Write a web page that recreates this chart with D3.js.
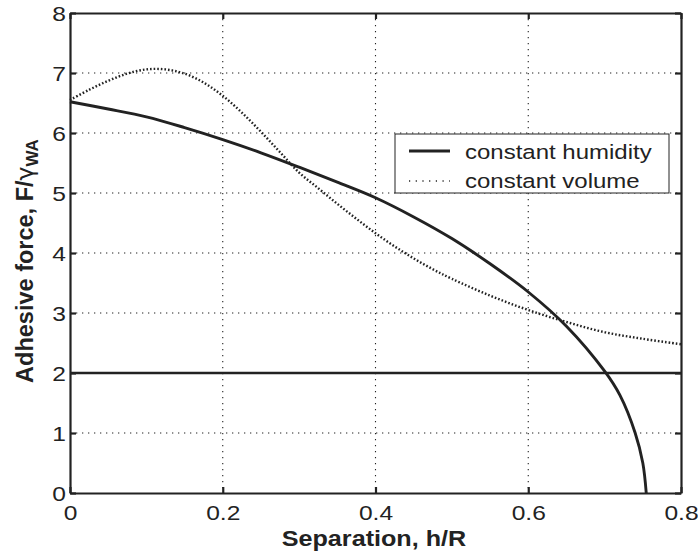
<!DOCTYPE html>
<html><head><meta charset="utf-8">
<script src="https://cdn.jsdelivr.net/npm/d3@7"></script>
<style>body{margin:0;background:#fff}svg{display:block}text{font-family:"Liberation Sans",Arial,sans-serif;fill:#222}</style>
</head><body><svg id="c" width="698" height="558"></svg>
<script>
const xTicks = [0, 0.2, 0.4, 0.6, 0.8];
const yTicks = [0, 1, 2, 3, 4, 5, 6, 7, 8];
const xTickLabels = ["0", "0.2", "0.4", "0.6", "0.8"];
const humidityX = [0, 0.05, 0.1, 0.15, 0.2, 0.25, 0.3, 0.35, 0.4, 0.45, 0.5, 0.55, 0.6, 0.65, 0.7, 0.72, 0.74, 0.75, 0.7545];
const humidityY = [6.52, 6.40, 6.27, 6.09, 5.89, 5.67, 5.43, 5.18, 4.92, 4.60, 4.24, 3.82, 3.35, 2.78, 2.03, 1.63, 1.0, 0.5, 0];
const volumeX = [0, 0.025, 0.05, 0.075, 0.1, 0.125, 0.15, 0.175, 0.2, 0.225, 0.25, 0.275, 0.3, 0.325, 0.35, 0.375, 0.4, 0.425, 0.45, 0.475, 0.5, 0.55, 0.6, 0.65, 0.7, 0.75, 0.8];
const volumeY = [6.55, 6.72, 6.87, 6.99, 7.06, 7.06, 6.99, 6.84, 6.62, 6.34, 6.02, 5.68, 5.34, 5.08, 4.82, 4.57, 4.33, 4.11, 3.91, 3.73, 3.57, 3.29, 3.05, 2.85, 2.68, 2.57, 2.48];
const refLevel = 2;
const legendLabels = ["constant humidity", "constant volume"];

const svg = d3.select("#c");
const L = 70, R = 681, T = 13, B = 493;
const x = d3.scaleLinear().domain([0, 0.8]).range([L, R]);
const y = d3.scaleLinear().domain([0, 8]).range([B, T]);
const ink = "#222";
const SX = 1.17; // horizontal stretch of glyphs in the reference

function stretch(sel) {
  sel.each(function () {
    const w = this.getComputedTextLength();
    d3.select(this).attr("textLength", w * SX).attr("lengthAdjust", "spacingAndGlyphs");
  });
}

// grid
const g = svg.append("g");
g.selectAll(".gx").data(xTicks.slice(1, -1)).join("line")
  .attr("x1", d => x(d)).attr("x2", d => x(d)).attr("y1", T).attr("y2", B)
  .attr("stroke", ink).attr("stroke-width", 1.1).attr("stroke-dasharray", "1.3,4.7");
g.selectAll(".gy").data(yTicks.slice(1, -1)).join("line")
  .attr("y1", d => y(d)).attr("y2", d => y(d)).attr("x1", L).attr("x2", R)
  .attr("stroke", ink).attr("stroke-width", 1.1).attr("stroke-dasharray", "1.3,4.7");

// axes (MATLAB-style inward ticks on all sides)
const tl = 6;
const axB = svg.append("g").attr("transform", `translate(0,${B})`)
  .call(d3.axisBottom(x).tickValues(xTicks).tickFormat((d, i) => xTickLabels[i]).tickSizeInner(-tl).tickSizeOuter(0));
const axT = svg.append("g").attr("transform", `translate(0,${T})`)
  .call(d3.axisTop(x).tickValues(xTicks).tickFormat("").tickSizeInner(-tl).tickSizeOuter(0));
const axL = svg.append("g").attr("transform", `translate(${L},0)`)
  .call(d3.axisLeft(y).tickValues(yTicks).tickFormat(d3.format("d")).tickSizeInner(-tl).tickSizeOuter(0));
const axR = svg.append("g").attr("transform", `translate(${R},0)`)
  .call(d3.axisRight(y).tickValues(yTicks).tickFormat("").tickSizeInner(-tl).tickSizeOuter(0));
[axB, axT, axL, axR].forEach(a => {
  a.select(".domain").attr("stroke", ink).attr("stroke-width", 2.2);
  a.selectAll(".tick line").attr("stroke", ink).attr("stroke-width", 2.2);
  a.selectAll("text").attr("font-size", 21).attr("font-family", "Liberation Sans, Arial, sans-serif").attr("fill", ink);
});
axB.selectAll(".tick text").attr("dy", null).attr("y", 27);
axL.selectAll(".tick text").attr("x", -4).attr("dy", "0.36em");
stretch(axB.selectAll(".tick text"));
stretch(axL.selectAll(".tick text"));

// reference line
svg.append("line").attr("x1", L).attr("x2", R).attr("y1", y(refLevel)).attr("y2", y(refLevel))
  .attr("stroke", ink).attr("stroke-width", 2.6);

const humid = humidityX.map((v, i) => [v, humidityY[i]]);
const vol = volumeX.map((v, i) => [v, volumeY[i]]);
const lineGen = d3.line().x(d => x(d[0])).y(d => y(d[1])).curve(d3.curveCatmullRom.alpha(0.5));
svg.append("path").attr("d", lineGen(vol))
  .attr("fill", "none").attr("stroke", ink).attr("stroke-width", 2.4).attr("stroke-dasharray", "1.6,2");
svg.append("path").attr("d", lineGen(humid))
  .attr("fill", "none").attr("stroke", ink).attr("stroke-width", 2.9);

// legend
const lg = svg.append("g");
lg.append("rect").attr("x", 395).attr("y", 134).attr("width", 274).attr("height", 59)
  .attr("fill", "#fff").attr("stroke", ink).attr("stroke-width", 1);
lg.append("line").attr("x1", 409).attr("x2", 450).attr("y1", 151).attr("y2", 151)
  .attr("stroke", ink).attr("stroke-width", 2.9);
lg.append("line").attr("x1", 409).attr("x2", 450).attr("y1", 181).attr("y2", 181)
  .attr("stroke", ink).attr("stroke-width", 1.5).attr("stroke-dasharray", "1.2,5.5");
const lt = lg.selectAll("text").data(legendLabels).join("text")
  .attr("x", 465).attr("y", (d, i) => 159 + i * 29).attr("font-size", 20.5).text(d => d);
stretch(lt);

// axis titles
const xt = svg.append("text").attr("x", 374).attr("y", 546).attr("text-anchor", "middle")
  .attr("font-size", 21.5).attr("font-weight", "bold").text("Separation, h/R");
stretch(xt);
const yt = svg.append("text").attr("transform", "translate(33,261) rotate(-90)").attr("text-anchor", "middle")
  .attr("font-size", 23.5).attr("font-weight", "bold");
yt.append("tspan").text("Adhesive force, F/");
yt.append("tspan").attr("font-weight", "normal").attr("font-family", "DejaVu Sans, sans-serif").attr("font-size", 23.5).text("γ");
yt.append("tspan").attr("font-size", 17).attr("dy", 5).text("WA");
</script></body></html>
